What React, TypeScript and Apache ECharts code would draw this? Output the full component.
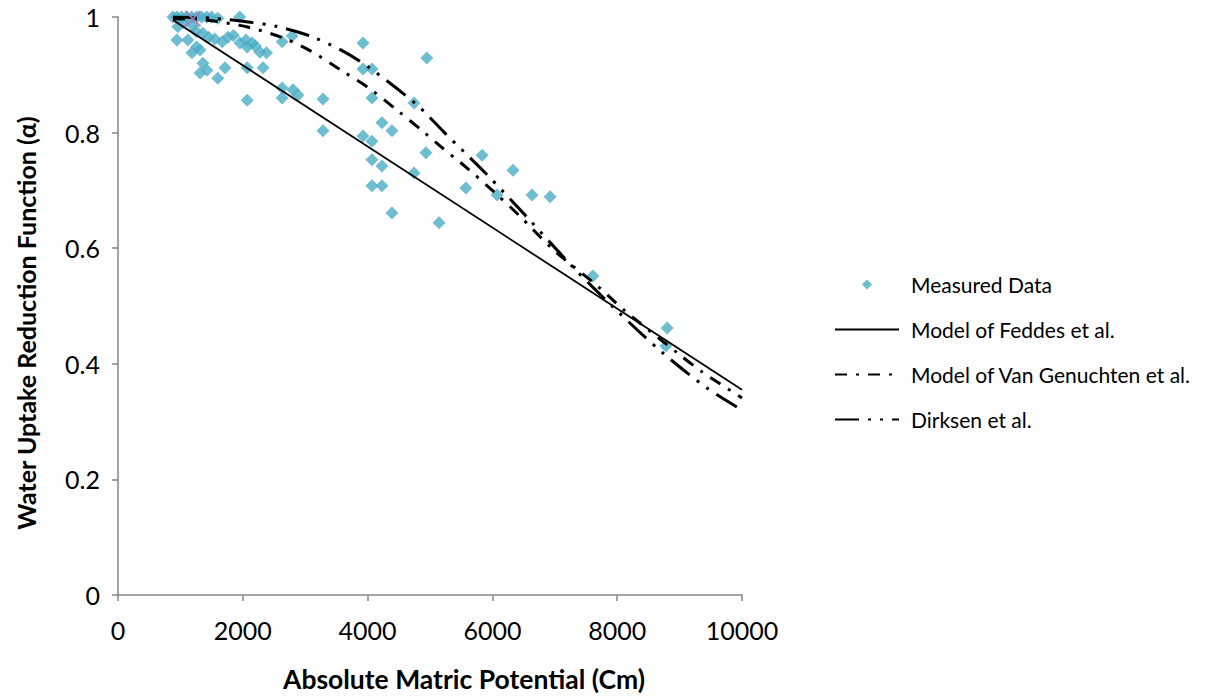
import React, { useEffect, useRef } from "react";
import * as echarts from "echarts";

const measuredX = [880, 950, 1020, 1100, 1180, 1260, 1340, 1420, 1500, 1600, 1950,
  960, 1050, 1200, 945, 1120, 1250, 1360, 1450, 1550, 1670, 1760, 1955, 2070, 2150, 2275, 2380,
  1185, 1315, 1260, 1360, 1315, 1425, 1715, 1600, 2070, 2325, 2070, 2630, 2630, 2805, 2885,
  3285, 3285, 2790, 2630, 2050, 2200, 1850,
  3926, 4950, 3926, 4070, 4070, 4745, 4230, 4390, 3926, 4070, 4935, 4070, 4230, 4745, 4070,
  4230, 4390, 5145, 5575, 5835, 6075, 6330, 6635, 6925, 7610, 8800, 8780];
const measuredY = [1.0, 1.0, 1.0, 1.0, 1.0, 1.0, 1.0, 1.0, 1.0, 0.998, 1.0,
  0.983, 0.99, 0.985, 0.96, 0.96, 0.975, 0.972, 0.965, 0.962, 0.957, 0.965, 0.955, 0.948, 0.955, 0.939, 0.938,
  0.938, 0.943, 0.948, 0.92, 0.903, 0.908, 0.912, 0.894, 0.912, 0.912, 0.856, 0.877, 0.86, 0.874, 0.865,
  0.858, 0.803, 0.967, 0.957, 0.96, 0.95, 0.968,
  0.955, 0.929, 0.91, 0.91, 0.86, 0.851, 0.817, 0.803, 0.794, 0.785, 0.765, 0.753, 0.742, 0.73, 0.708,
  0.708, 0.661, 0.644, 0.704, 0.761, 0.692, 0.735, 0.692, 0.689, 0.552, 0.462, 0.431];

const extraX = [1200];
const extraY = [0.997];

const feddesX = [880, 10000];
const feddesY = [0.995, 0.355];

const vanGenX = [880, 1400, 2060, 2640, 3090, 3575, 4020, 4470, 4900, 5160, 5590, 6040, 6425, 7000, 7680, 8110, 8975, 9360, 10000];
const vanGenY = [0.997, 0.995, 0.983, 0.964, 0.941, 0.908, 0.877, 0.839, 0.801, 0.777, 0.739, 0.696, 0.657, 0.595, 0.535, 0.493, 0.418, 0.386, 0.341];

const dirksenX = [880, 1500, 2115, 2530, 3080, 3605, 4020, 4790, 5240, 5915, 6570, 7276, 8013, 8718, 9440, 10000];
const dirksenY = [1.0, 0.998, 0.991, 0.984, 0.967, 0.941, 0.913, 0.848, 0.799, 0.727, 0.652, 0.569, 0.49, 0.42, 0.358, 0.32];

const seriesNames = ["Measured Data", "Model of Feddes et al.", "Model of Van Genuchten et al.", "Dirksen et al."];
const xTitle = "Absolute Matric Potential (Cm)";
const yTitle = "Water Uptake Reduction Function (α)";

const zip = (xs: number[], ys: number[]) => xs.map((x, i) => [x, ys[i]]);
const diamondPath = "path://M5,0L10,5L5,10L0,5Z";
const crossPath = "path://M0,1L1,0L5,4L9,0L10,1L6,5L10,9L9,10L5,6L1,10L0,9L4,5Z";

export default function App() {
  const ref = useRef<HTMLDivElement>(null);
  useEffect(() => {
    document.body.style.margin = "0";
    const chart = echarts.init(ref.current!, null, { renderer: "svg" });
    const font = "Lato, 'Liberation Sans', sans-serif";
    const axisColor = "#868686";
    const hidden = { opacity: 0 };
    chart.setOption({
      animation: false,
      backgroundColor: "#ffffff",
      textStyle: { fontFamily: font },
      grid: { left: 118, right: 475, top: 17, bottom: 103 },
      legend: {
        orient: "vertical",
        left: 829,
        top: 269,
        itemWidth: 64,
        itemHeight: 10,
        itemGap: 24,
        data: [
          { name: seriesNames[0], icon: diamondPath },
          { name: seriesNames[1], itemStyle: hidden },
          { name: seriesNames[2], itemStyle: hidden },
          { name: seriesNames[3], itemStyle: hidden },
        ],
        textStyle: { fontFamily: font, fontSize: 21, color: "#000", padding: [0, 0, 0, 7] },
      },
      xAxis: {
        type: "value",
        min: 0,
        max: 10000,
        interval: 2000,
        name: xTitle,
        nameLocation: "middle",
        nameGap: 70,
        nameTextStyle: { fontFamily: font, fontSize: 26.5, fontWeight: "bold", color: "#000", padding: [0, 0, 0, 68] },
        axisLine: { show: true, lineStyle: { color: axisColor, width: 1.5 } },
        axisTick: { show: true, length: 6, lineStyle: { color: axisColor, width: 1.5 } },
        axisLabel: { fontFamily: font, fontSize: 25, color: "#000", margin: 22, formatter: (v: number) => String(v) },
        splitLine: { show: false },
      },
      yAxis: {
        type: "value",
        min: 0,
        max: 1,
        interval: 0.2,
        name: yTitle,
        nameLocation: "middle",
        nameGap: 80,
        nameTextStyle: { fontFamily: font, fontSize: 25, fontWeight: "bold", color: "#000", padding: [0, 34, 0, 0] },
        axisLine: { show: true, lineStyle: { color: axisColor, width: 1.5 } },
        axisTick: { show: true, length: 6, lineStyle: { color: axisColor, width: 1.5 } },
        axisLabel: { fontFamily: font, fontSize: 25, color: "#000", margin: 18 },
        splitLine: { show: false },
      },
      series: [
        {
          name: seriesNames[0],
          type: "scatter",
          symbol: diamondPath,
          symbolKeepAspect: true,
          symbolSize: 13,
          itemStyle: { color: "#4BACC6" },
          data: zip(measuredX, measuredY),
          z: 3,
        },
        {
          name: seriesNames[1],
          type: "line",
          showSymbol: false,
          symbol: "none",
          lineStyle: { color: "#000", width: 1.8, type: "solid" },
          itemStyle: { color: "#000" },
          data: zip(feddesX, feddesY),
          z: 4,
        },
        {
          name: seriesNames[2],
          type: "line",
          showSymbol: false,
          symbol: "none",
          smooth: 0.3,
          lineStyle: { color: "#000", width: 3, type: [12, 9, 3, 9], cap: "butt" },
          itemStyle: { color: "#000" },
          data: zip(vanGenX, vanGenY),
          z: 4,
        },
        {
          name: seriesNames[3],
          type: "line",
          showSymbol: false,
          symbol: "none",
          smooth: 0.3,
          lineStyle: { color: "#000", width: 3, type: [24, 9, 3, 9, 3, 9], cap: "butt" },
          itemStyle: { color: "#000" },
          data: zip(dirksenX, dirksenY),
          z: 4,
        },
        {
          name: "extra",
          type: "scatter",
          symbol: crossPath,
          symbolKeepAspect: true,
          symbolSize: 17,
          itemStyle: { color: "#9B7FC0" },
          data: zip(extraX, extraY),
          z: 6,
        },
      ],
    });
    return () => chart.dispose();
  }, []);
  return <div ref={ref} style={{ position: "fixed", left: 0, top: 0, width: 1217, height: 698 }} />;
}
